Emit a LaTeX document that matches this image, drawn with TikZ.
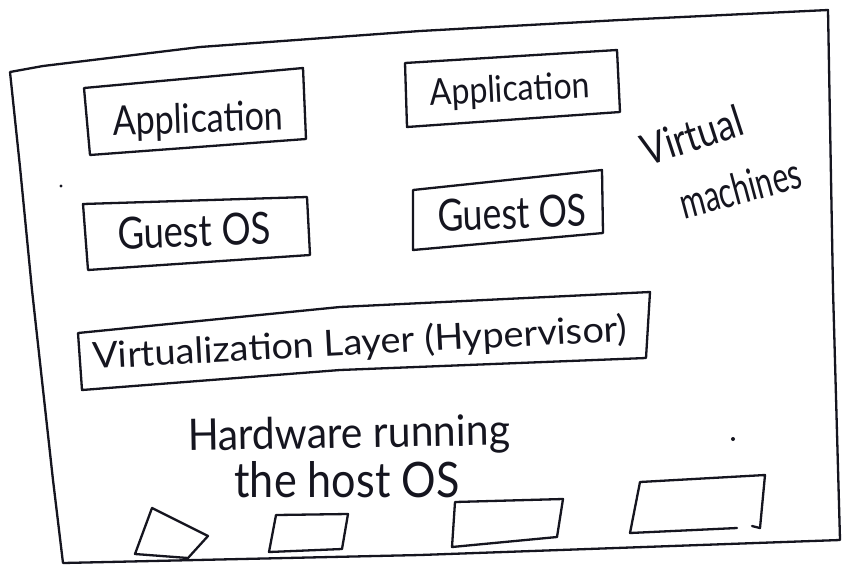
\documentclass[tikz,border=0pt]{standalone}
\usepackage{fontspec}
\usepackage{graphicx}
\setmainfont{Lato}
\definecolor{ink}{HTML}{15151F}
% scale a text to a given width and height
\newcommand\fitw[3]{\resizebox{#1}{#2}{#3}}
\begin{document}
\begin{tikzpicture}[x=1pt,y=-1pt,
  pen/.style={draw=ink, line width=2.3pt, line join=round, line cap=round},
  hand/.style={text=ink, inner sep=0pt}]
\useasboundingbox (0,0) rectangle (842,565);
\fill[white] (0,0) rectangle (842,565);

% outer frame
\draw[pen] (10,72) -- (43,66) -- (200,47) -- (420,31) -- (620,20) -- (828,10)
  -- (833,290) -- (840,540) -- (420,555) -- (63,563)
  -- (53,480) -- (32,290) -- (20,167) -- cycle;

% virtual machine boxes
\draw[pen] (84,88) -- (303,68) -- (306,139) -- (90,155) -- cycle;
\draw[pen] (405,63) -- (617,50) -- (620,112) -- (407,127) -- cycle;
\draw[pen] (83,204) -- (307,197) -- (310,255) -- (88,270) -- cycle;
\draw[pen] (413,190) -- (602,170) -- (603,233) -- (413,250) -- cycle;

\node[hand, rotate=2] (app1) at (198,121) {\fitw{170pt}{30pt}{Application}};
\node[hand, rotate=3] (app2) at (510,91) {\fitw{160pt}{27pt}{Application}};
\node[hand, rotate=2] (gos1) at (194,231) {\fitw{153pt}{32pt}{Guest OS}};
\node[hand, rotate=2] (gos2) at (512,213) {\fitw{149pt}{32pt}{Guest OS}};

% label for the virtual machines
\node[hand, rotate=18] (vm1) at (692,135) {\fitw{104pt}{32pt}{Virtual}};
\node[hand, rotate=15] (vm2) at (740,188) {\fitw{124pt}{32pt}{machines}};

% virtualization layer
\draw[pen] (78,333) -- (340,307) -- (650,292) -- (646,358) -- (340,370) -- (82,390) -- cycle;
\node[hand, rotate=3] (hyp) at (360,344) {\fitw{535pt}{28pt}{Virtualization Layer (Hypervisor)}};

% hardware
\node[hand, rotate=1] (hw1) at (349,436) {\fitw{322pt}{32pt}{Hardware running}};
\node[hand] (hw2) at (347,480) {\fitw{225pt}{36pt}{the host OS}};

\draw[pen] (152,508) -- (208,536) -- (188,558) -- (135,554) -- cycle;
\draw[pen] (276,515) -- (348,514) -- (342,549) -- (269,552) -- cycle;
\draw[pen] (455,502) -- (563,499) -- (557,537) -- (452,547) -- cycle;
\draw[pen] (737,528) -- (630,533) -- (640,482) -- (765,475) -- (760,528) -- (752,526);

% stray dots
\fill[ink] (61,186) circle (1.6);
\fill[ink] (733,439) circle (2);
\end{tikzpicture}
\end{document}
